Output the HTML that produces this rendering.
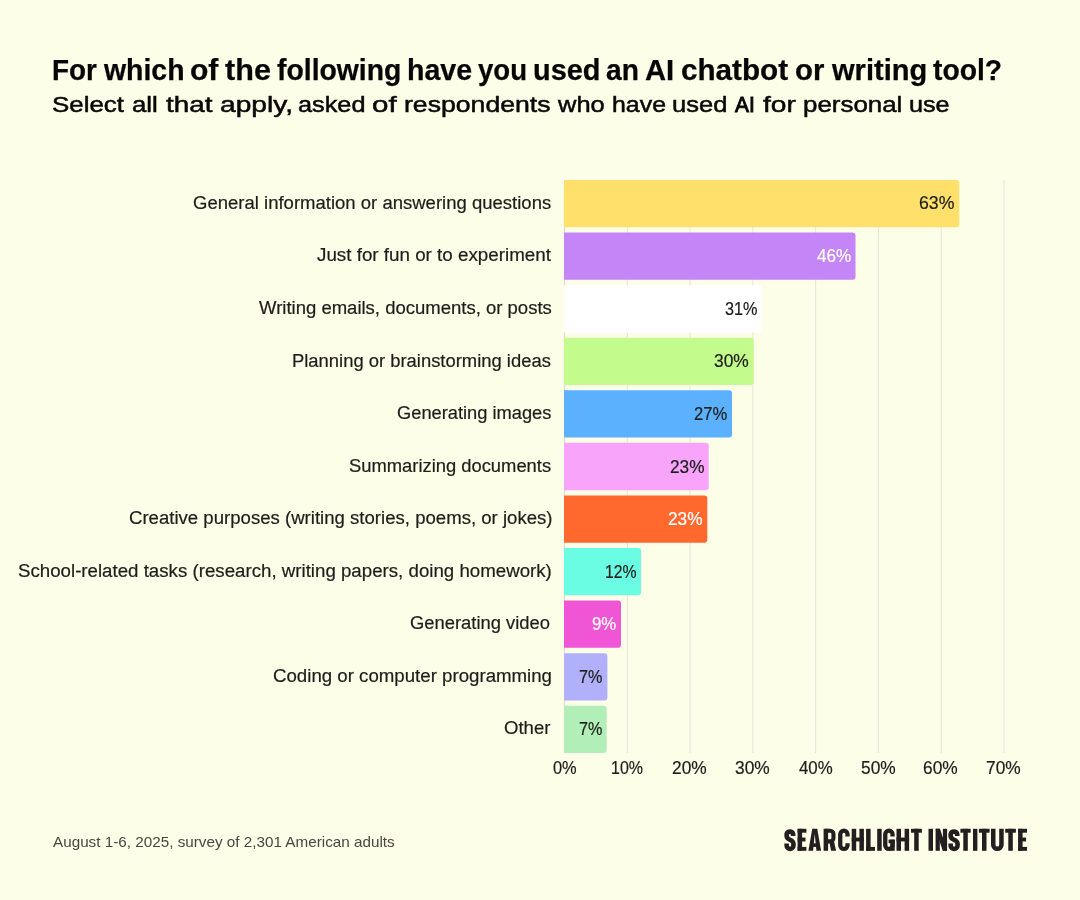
<!DOCTYPE html>
<html><head><meta charset="utf-8"><title>chart</title>
<style>
html,body{margin:0;padding:0;}
body{width:1080px;height:900px;background:#fdfee8;position:relative;overflow:hidden;font-family:"Liberation Sans",sans-serif;color:#1d1d1b;}
.t{position:absolute;white-space:nowrap;line-height:1;transform-origin:0 0;}
</style></head><body>
<svg style="position:absolute;left:0;top:0" width="1080" height="900" viewBox="0 0 1080 900">
<rect x="564.00" y="180" width="1.00" height="573" fill="#d9dbc8"/>
<rect x="626.79" y="180" width="1.00" height="573" fill="#e4e5d2"/>
<rect x="689.57" y="180" width="1.00" height="573" fill="#e4e5d2"/>
<rect x="752.36" y="180" width="1.00" height="573" fill="#e4e5d2"/>
<rect x="815.14" y="180" width="1.00" height="573" fill="#e4e5d2"/>
<rect x="877.93" y="180" width="1.00" height="573" fill="#e4e5d2"/>
<rect x="940.72" y="180" width="1.00" height="573" fill="#e4e5d2"/>
<rect x="1003.50" y="180" width="1.00" height="573" fill="#e4e5d2"/>
<path d="M564.00,180.00 H956.30 A3,3 0 0 1 959.30,183.00 V224.30 A3,3 0 0 1 956.30,227.30 H564.00 Z" fill="#ffe06a"/>
<path d="M564.00,232.57 H852.50 A3,3 0 0 1 855.50,235.57 V276.87 A3,3 0 0 1 852.50,279.87 H564.00 Z" fill="#c485f7"/>
<path d="M564.00,285.14 H759.00 A3,3 0 0 1 762.00,288.14 V329.44 A3,3 0 0 1 759.00,332.44 H564.00 Z" fill="#ffffff"/>
<path d="M564.00,337.71 H750.70 A3,3 0 0 1 753.70,340.71 V382.01 A3,3 0 0 1 750.70,385.01 H564.00 Z" fill="#c3fc8d"/>
<path d="M564.00,390.28 H729.00 A3,3 0 0 1 732.00,393.28 V434.58 A3,3 0 0 1 729.00,437.58 H564.00 Z" fill="#5cb1ff"/>
<path d="M564.00,442.85 H705.70 A3,3 0 0 1 708.70,445.85 V487.15 A3,3 0 0 1 705.70,490.15 H564.00 Z" fill="#f8a4fb"/>
<path d="M564.00,495.42 H704.30 A3,3 0 0 1 707.30,498.42 V539.72 A3,3 0 0 1 704.30,542.72 H564.00 Z" fill="#ff692e"/>
<path d="M564.00,547.99 H638.00 A3,3 0 0 1 641.00,550.99 V592.29 A3,3 0 0 1 638.00,595.29 H564.00 Z" fill="#6bfde4"/>
<path d="M564.00,600.56 H618.00 A3,3 0 0 1 621.00,603.56 V644.86 A3,3 0 0 1 618.00,647.86 H564.00 Z" fill="#ef55d5"/>
<path d="M564.00,653.13 H604.40 A3,3 0 0 1 607.40,656.13 V697.43 A3,3 0 0 1 604.40,700.43 H564.00 Z" fill="#b1b0fb"/>
<path d="M564.00,705.70 H603.70 A3,3 0 0 1 606.70,708.70 V750.00 A3,3 0 0 1 603.70,753.00 H564.00 Z" fill="#b2efb8"/>
</svg>
<div style="position:absolute;left:0;top:0;width:1080px;height:900px;will-change:transform">
<div class="t" style="left:52.31px;top:55.00px;font-size:29.5px;font-weight:bold;color:#060606;transform:scaleX(0.9444);-webkit-text-stroke:0.25px #060606;">For</div>
<div class="t" style="left:104.10px;top:55.00px;font-size:29.5px;font-weight:bold;color:#060606;transform:scaleX(0.9634);-webkit-text-stroke:0.25px #060606;">which</div>
<div class="t" style="left:190.08px;top:55.00px;font-size:29.5px;font-weight:bold;color:#060606;transform:scaleX(1.0185);-webkit-text-stroke:0.25px #060606;">of</div>
<div class="t" style="left:225.20px;top:55.00px;font-size:29.5px;font-weight:bold;color:#060606;transform:scaleX(1.0372);-webkit-text-stroke:0.25px #060606;">the</div>
<div class="t" style="left:277.20px;top:55.00px;font-size:29.5px;font-weight:bold;color:#060606;transform:scaleX(0.9609);-webkit-text-stroke:0.25px #060606;">following</div>
<div class="t" style="left:407.36px;top:55.00px;font-size:29.5px;font-weight:bold;color:#060606;transform:scaleX(0.9688);-webkit-text-stroke:0.25px #060606;">have</div>
<div class="t" style="left:478.00px;top:55.00px;font-size:29.5px;font-weight:bold;color:#060606;transform:scaleX(0.9333);-webkit-text-stroke:0.25px #060606;">you</div>
<div class="t" style="left:533.04px;top:55.00px;font-size:29.5px;font-weight:bold;color:#060606;transform:scaleX(0.9800);-webkit-text-stroke:0.25px #060606;">used</div>
<div class="t" style="left:606.24px;top:55.00px;font-size:29.5px;font-weight:bold;color:#060606;transform:scaleX(0.9562);-webkit-text-stroke:0.25px #060606;">an</div>
<div class="t" style="left:645.11px;top:55.00px;font-size:29.5px;font-weight:bold;color:#060606;transform:scaleX(0.9889);-webkit-text-stroke:0.25px #060606;">AI</div>
<div class="t" style="left:680.69px;top:55.00px;font-size:29.5px;font-weight:bold;color:#060606;transform:scaleX(1.0057);-webkit-text-stroke:0.25px #060606;">chatbot</div>
<div class="t" style="left:795.11px;top:55.00px;font-size:29.5px;font-weight:bold;color:#060606;transform:scaleX(0.9929);-webkit-text-stroke:0.25px #060606;">or</div>
<div class="t" style="left:831.70px;top:55.00px;font-size:29.5px;font-weight:bold;color:#060606;transform:scaleX(0.9853);-webkit-text-stroke:0.25px #060606;">writing</div>
<div class="t" style="left:933.10px;top:55.00px;font-size:29.5px;font-weight:bold;color:#060606;transform:scaleX(0.9577);-webkit-text-stroke:0.25px #060606;">tool?</div>
<div class="t" style="left:52.15px;top:94.30px;font-size:22.5px;color:#080808;transform:scaleX(1.1516);-webkit-text-stroke:0.5px #080808;">Select</div>
<div class="t" style="left:131.65px;top:94.30px;font-size:22.5px;color:#080808;transform:scaleX(1.1476);-webkit-text-stroke:0.5px #080808;">all</div>
<div class="t" style="left:166.10px;top:94.30px;font-size:22.5px;color:#080808;transform:scaleX(1.2368);-webkit-text-stroke:0.5px #080808;">that</div>
<div class="t" style="left:220.05px;top:94.30px;font-size:22.5px;color:#080808;transform:scaleX(1.2500);-webkit-text-stroke:0.5px #080808;">apply,</div>
<div class="t" style="left:298.08px;top:94.30px;font-size:22.5px;color:#080808;transform:scaleX(1.1241);-webkit-text-stroke:0.5px #080808;">asked</div>
<div class="t" style="left:371.79px;top:94.30px;font-size:22.5px;color:#080808;transform:scaleX(1.3111);-webkit-text-stroke:0.5px #080808;">of</div>
<div class="t" style="left:404.42px;top:94.30px;font-size:22.5px;color:#080808;transform:scaleX(1.1836);-webkit-text-stroke:0.5px #080808;">respondents</div>
<div class="t" style="left:557.80px;top:94.30px;font-size:22.5px;color:#080808;transform:scaleX(1.1317);-webkit-text-stroke:0.5px #080808;">who</div>
<div class="t" style="left:611.69px;top:94.30px;font-size:22.5px;color:#080808;transform:scaleX(1.1064);-webkit-text-stroke:0.5px #080808;">have</div>
<div class="t" style="left:672.16px;top:94.30px;font-size:22.5px;color:#080808;transform:scaleX(1.1362);-webkit-text-stroke:0.5px #080808;">used</div>
<div class="t" style="left:735.30px;top:94.30px;font-size:22.5px;color:#080808;transform:scaleX(0.9300);-webkit-text-stroke:1.0px #080808;">AI</div>
<div class="t" style="left:762.80px;top:94.30px;font-size:22.5px;color:#080808;transform:scaleX(1.2500);-webkit-text-stroke:0.5px #080808;">for</div>
<div class="t" style="left:803.25px;top:94.30px;font-size:22.5px;color:#080808;transform:scaleX(1.1512);-webkit-text-stroke:0.5px #080808;">personal</div>
<div class="t" style="left:909.08px;top:94.30px;font-size:22.5px;color:#080808;transform:scaleX(1.1200);-webkit-text-stroke:0.5px #080808;">use</div>
<div class="t" style="left:193.37px;top:194.00px;font-size:18px;transform:scaleX(1.0288);-webkit-text-stroke:0.2px #1d1d1b;">General information or answering questions</div>
<div class="t" style="left:919.22px;top:194.00px;font-size:18px;transform:scaleX(0.9829);-webkit-text-stroke:0.2px #1d1d1b;">63%</div>
<div class="t" style="left:317.20px;top:246.00px;font-size:18px;transform:scaleX(1.0437);-webkit-text-stroke:0.2px #1d1d1b;">Just for fun or to experiment</div>
<div class="t" style="left:816.60px;top:247.00px;font-size:18px;color:#ffffff;transform:scaleX(0.9500);-webkit-text-stroke:0.2px #ffffff;">46%</div>
<div class="t" style="left:259.00px;top:299.00px;font-size:18px;transform:scaleX(1.0282);-webkit-text-stroke:0.2px #1d1d1b;">Writing emails, documents, or posts</div>
<div class="t" style="left:724.80px;top:300.00px;font-size:18px;transform:scaleX(0.9029);-webkit-text-stroke:0.2px #1d1d1b;">31%</div>
<div class="t" style="left:292.28px;top:352.00px;font-size:18px;transform:scaleX(1.0226);-webkit-text-stroke:0.2px #1d1d1b;">Planning or brainstorming ideas</div>
<div class="t" style="left:714.23px;top:352.00px;font-size:18px;transform:scaleX(0.9657);-webkit-text-stroke:0.2px #1d1d1b;">30%</div>
<div class="t" style="left:396.68px;top:404.00px;font-size:18px;transform:scaleX(1.0152);-webkit-text-stroke:0.2px #1d1d1b;">Generating images</div>
<div class="t" style="left:694.08px;top:405.00px;font-size:18px;transform:scaleX(0.9229);-webkit-text-stroke:0.2px #1d1d1b;">27%</div>
<div class="t" style="left:348.98px;top:457.00px;font-size:18px;transform:scaleX(1.0203);-webkit-text-stroke:0.2px #1d1d1b;">Summarizing documents</div>
<div class="t" style="left:669.54px;top:458.00px;font-size:18px;transform:scaleX(0.9571);-webkit-text-stroke:0.2px #1d1d1b;">23%</div>
<div class="t" style="left:128.67px;top:509.00px;font-size:18px;transform:scaleX(1.0326);-webkit-text-stroke:0.2px #1d1d1b;">Creative purposes (writing stories, poems, or jokes)</div>
<div class="t" style="left:668.14px;top:510.00px;font-size:18px;color:#ffffff;transform:scaleX(0.9571);-webkit-text-stroke:0.2px #ffffff;">23%</div>
<div class="t" style="left:18.46px;top:562.00px;font-size:18px;transform:scaleX(1.0381);-webkit-text-stroke:0.2px #1d1d1b;">School-related tasks (research, writing papers, doing homework)</div>
<div class="t" style="left:604.72px;top:563.00px;font-size:18px;transform:scaleX(0.8771);-webkit-text-stroke:0.2px #1d1d1b;">12%</div>
<div class="t" style="left:409.68px;top:614.00px;font-size:18px;transform:scaleX(1.0213);-webkit-text-stroke:0.2px #1d1d1b;">Generating video</div>
<div class="t" style="left:592.07px;top:615.00px;font-size:18px;color:#ffffff;transform:scaleX(0.9320);-webkit-text-stroke:0.2px #ffffff;">9%</div>
<div class="t" style="left:272.96px;top:667.00px;font-size:18px;transform:scaleX(1.0367);-webkit-text-stroke:0.2px #1d1d1b;">Coding or computer programming</div>
<div class="t" style="left:579.30px;top:668.00px;font-size:18px;transform:scaleX(0.9000);-webkit-text-stroke:0.2px #1d1d1b;">7%</div>
<div class="t" style="left:503.97px;top:719.00px;font-size:18px;transform:scaleX(1.0318);-webkit-text-stroke:0.2px #1d1d1b;">Other</div>
<div class="t" style="left:578.60px;top:720.00px;font-size:18px;transform:scaleX(0.9000);-webkit-text-stroke:0.2px #1d1d1b;">7%</div>
<div class="t" style="left:552.55px;top:759.20px;font-size:18px;transform:scaleX(0.9115);-webkit-text-stroke:0.2px #1d1d1b;">0%</div>
<div class="t" style="left:610.75px;top:759.20px;font-size:18px;transform:scaleX(0.8886);-webkit-text-stroke:0.2px #1d1d1b;">10%</div>
<div class="t" style="left:672.16px;top:759.20px;font-size:18px;transform:scaleX(0.9629);-webkit-text-stroke:0.2px #1d1d1b;">20%</div>
<div class="t" style="left:734.95px;top:759.20px;font-size:18px;transform:scaleX(0.9629);-webkit-text-stroke:0.2px #1d1d1b;">30%</div>
<div class="t" style="left:798.69px;top:759.20px;font-size:18px;transform:scaleX(0.9361);-webkit-text-stroke:0.2px #1d1d1b;">40%</div>
<div class="t" style="left:860.52px;top:759.20px;font-size:18px;transform:scaleX(0.9629);-webkit-text-stroke:0.2px #1d1d1b;">50%</div>
<div class="t" style="left:923.30px;top:759.20px;font-size:18px;transform:scaleX(0.9629);-webkit-text-stroke:0.2px #1d1d1b;">60%</div>
<div class="t" style="left:986.09px;top:759.20px;font-size:18px;transform:scaleX(0.9629);-webkit-text-stroke:0.2px #1d1d1b;">70%</div>
<div class="t" style="left:52.70px;top:834.30px;font-size:15px;color:#474742;transform:scaleX(1.0167);">August 1-6, 2025, survey of 2,301 American adults</div>
</div>
<svg class="logo" style="position:absolute;left:780px;top:824px" width="252" height="32" viewBox="780 824 252 32" fill="#231f20"><path d="M793.15,836 V834.05 A3.4,3.4 0 0 0 786.65,834.05 V835.8 C786.65,841.3 793.45,838.3 793.45,843.8 V845.55 A3.4,3.4 0 0 1 786.65,845.55 V843.6" fill="none" stroke="#231f20" stroke-width="4.6"/><rect x="797.6" y="828.8" width="4.5" height="22"/><rect x="797.6" y="828.8" width="8.8" height="3.9"/><rect x="797.6" y="837.55" width="7.9" height="3.9"/><rect x="797.6" y="846.9" width="8.8" height="3.9"/><path d="M808.4,850.8 L812.25,828.8 L817.25,828.8 L821.1,850.8 L816.4,850.8 L814.75,834.08 L813.1,850.8 Z"/><rect x="810.9" y="843.32" width="7.7" height="3.6"/><rect x="823.6" y="828.8" width="4.5" height="22"/><path d="M824.6,830.75 H830.25 A3.2,3.2 0 0 1 833.45,833.95 V838.2 A3.2,3.2 0 0 1 830.25,841.4 H824.6" fill="none" stroke="#231f20" stroke-width="4.1"/><polygon points="829.1,840.9 833.9,840.9 836.1,850.8 831.1,850.8"/><path d="M847.55,836.4 V834.3 A3.65,3.65 0 0 0 840.25,834.3 V845.3 A3.65,3.65 0 0 0 847.55,845.3 V843.2" fill="none" stroke="#231f20" stroke-width="4.3"/><rect x="851.7" y="828.8" width="4.5" height="22"/><rect x="859.4" y="828.8" width="4.5" height="22"/><rect x="851.7" y="837.55" width="12.2" height="3.9"/><rect x="866.1" y="828.8" width="4.5" height="22"/><rect x="866.1" y="846.9" width="8.9" height="3.9"/><rect x="877.2" y="828.8" width="4.5" height="22"/><path d="M892.55,836.4 V834.3 A3.65,3.65 0 0 0 885.25,834.3 V845.3 A3.65,3.65 0 0 0 892.55,845.3 V840.3" fill="none" stroke="#231f20" stroke-width="4.3"/><rect x="888.6" y="839.6" width="6.1" height="3.6"/><rect x="890.4" y="839.6" width="4.3" height="11.2"/><rect x="896.5" y="828.8" width="4.5" height="22"/><rect x="904.6" y="828.8" width="4.5" height="22"/><rect x="896.5" y="837.55" width="12.6" height="3.9"/><rect x="911" y="828.8" width="10.9" height="3.9"/><rect x="914.2" y="828.8" width="4.5" height="22"/><rect x="928.5" y="828.8" width="4.5" height="22"/><rect x="935.6" y="828.8" width="4.2" height="22"/><rect x="942.9" y="828.8" width="4.2" height="22"/><polygon points="935.6,828.8 940,828.8 947.1,850.8 942.7,850.8"/><path d="M957.25,836 V834.1 A3.45,3.45 0 0 0 950.65,834.1 V835.8 C950.65,841.3 957.55,838.3 957.55,843.8 V845.5 A3.45,3.45 0 0 1 950.65,845.5 V843.6" fill="none" stroke="#231f20" stroke-width="4.6"/><rect x="960.4" y="828.8" width="10.3" height="3.9"/><rect x="963.3" y="828.8" width="4.5" height="22"/><rect x="973" y="828.8" width="4.4" height="22"/><rect x="978.9" y="828.8" width="10.7" height="3.9"/><rect x="982" y="828.8" width="4.5" height="22"/><path d="M993.25,828.8 V844.75 A4.1,4.1 0 0 0 1001.45,844.75 V828.8" fill="none" stroke="#231f20" stroke-width="4.5"/><rect x="1005.2" y="828.8" width="10.7" height="3.9"/><rect x="1008.3" y="828.8" width="4.5" height="22"/><rect x="1018.1" y="828.8" width="4.5" height="22"/><rect x="1018.1" y="828.8" width="8.9" height="3.9"/><rect x="1018.1" y="837.55" width="8" height="3.9"/><rect x="1018.1" y="846.9" width="8.9" height="3.9"/></svg>
</body></html>
